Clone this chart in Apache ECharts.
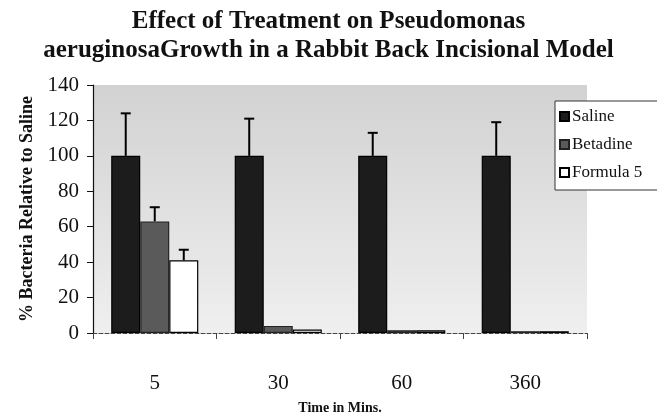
<!DOCTYPE html>
<html><head><meta charset="utf-8">
<script src="https://cdn.jsdelivr.net/npm/echarts@6/dist/echarts.min.js"></script>
<style>html,body{margin:0;padding:0;background:#fff}#c{width:657px;height:416px}</style>
</head><body><div id="c"></div>
<script>
const categories = ['5', '30', '60', '360'];
const seriesNames = ['Saline', 'Betadine', 'Formula 5'];
const saline = [100, 100, 100, 100];
const betadine = [63, 4, 1.5, 1];
const formula5 = [41, 2, 1.5, 1];
const salineErr = [24, 21, 13, 19];
const betadineErr = [8, 0, 0, 0];
const formula5Err = [6, 0, 0, 0];
const yTicks = [0, 20, 40, 60, 80, 100, 120, 140];

const values = [saline, betadine, formula5];
const errs = [salineErr, betadineErr, formula5Err];
const colors = ['#1c1c1c', '#5a5a5a', '#ffffff'];
const BAR_FRAC = 0.235;
const font = 'Liberation Serif, Times New Roman, serif';

const chart = echarts.init(document.getElementById('c'));

const barSeries = seriesNames.map((n, i) => ({
  name: n, type: 'bar', data: values[i], barWidth: (BAR_FRAC * 100) + '%', barGap: '0%',
  itemStyle: { color: colors[i], borderColor: i === 1 ? '#222' : '#000', borderWidth: 1.2 },
  z: 2
}));

const errSeries = seriesNames.map((n, i) => ({
  type: 'custom', name: n + ' err', silent: true, z: 3,
  data: categories.map((c, k) => [k, values[i][k], values[i][k] + errs[i][k]]).filter(d => d[2] > d[1]),
  encode: { x: 0, y: [1, 2] },
  renderItem: function (params, api) {
    const band = api.size([1, 0])[0];
    const off = (i - 1) * band * BAR_FRAC;
    const base = api.coord([api.value(0), api.value(1)]);
    const top = api.coord([api.value(0), api.value(2)]);
    const x = base[0] + off;
    const cap = 5;
    const st = { stroke: '#000', lineWidth: 2 };
    return { type: 'group', children: [
      { type: 'line', shape: { x1: x, y1: base[1], x2: x, y2: top[1] }, style: st },
      { type: 'line', shape: { x1: x - cap, y1: top[1], x2: x + cap, y2: top[1] }, style: st }
    ]};
  }
}));

chart.setOption({
  animation: false,
  backgroundColor: '#fff',
  title: {
    text: 'Effect of Treatment on Pseudomonas\naeruginosaGrowth in a Rabbit Back Incisional Model',
    left: 'center', top: 2,
    textStyle: { fontFamily: font, fontWeight: 'bold', fontSize: 25, lineHeight: 29, color: '#111' }
  },
  legend: {
    data: seriesNames.map(n => ({ name: n, icon: 'rect' })), orient: 'vertical', left: 555, top: 101,
    itemWidth: 9, itemHeight: 9, itemGap: 11,
    padding: [7, 40, 9, 4],
    backgroundColor: '#fff', borderColor: '#333', borderWidth: 1,
    textStyle: { fontFamily: font, fontSize: 17, color: '#111', padding: [0, 0, 0, -2] }
  },
  grid: {
    left: 93, right: 70, top: 85, bottom: 83, show: true, borderWidth: 0,
    outerBoundsMode: 'none', containLabel: false,
    backgroundColor: { type: 'linear', x: 0, y: 0, x2: 0, y2: 1,
      colorStops: [{ offset: 0, color: '#d2d2d2' }, { offset: 1, color: '#efefef' }] }
  },
  xAxis: {
    type: 'category', data: categories,
    name: 'Time in Mins.', nameLocation: 'middle', nameGap: 68,
    nameTextStyle: { fontFamily: font, fontWeight: 'bold', fontSize: 14, color: '#111' },
    axisLine: { show: true, lineStyle: { color: '#444', type: 'dashed', width: 1 } },
    axisTick: { show: true, length: 6, lineStyle: { color: '#444' } },
    axisLabel: { fontFamily: font, fontSize: 21, color: '#111', margin: 40 }
  },
  yAxis: {
    type: 'value', min: 0, max: 140, interval: 20,
    name: '% Bacteria Relative to Saline', nameLocation: 'middle', nameGap: 56,
    nameTextStyle: { fontFamily: font, fontWeight: 'bold', fontSize: 18, color: '#111' },
    axisLine: { show: true, lineStyle: { color: '#111', width: 1.2 } },
    axisTick: { show: true, length: 6, lineStyle: { color: '#111' } },
    splitLine: { show: false },
    axisLabel: { fontFamily: font, fontSize: 21, color: '#111', margin: 14,
      formatter: v => yTicks.includes(v) ? String(v) : '' }
  },
  series: [...barSeries, ...errSeries]
});
</script></body></html>
